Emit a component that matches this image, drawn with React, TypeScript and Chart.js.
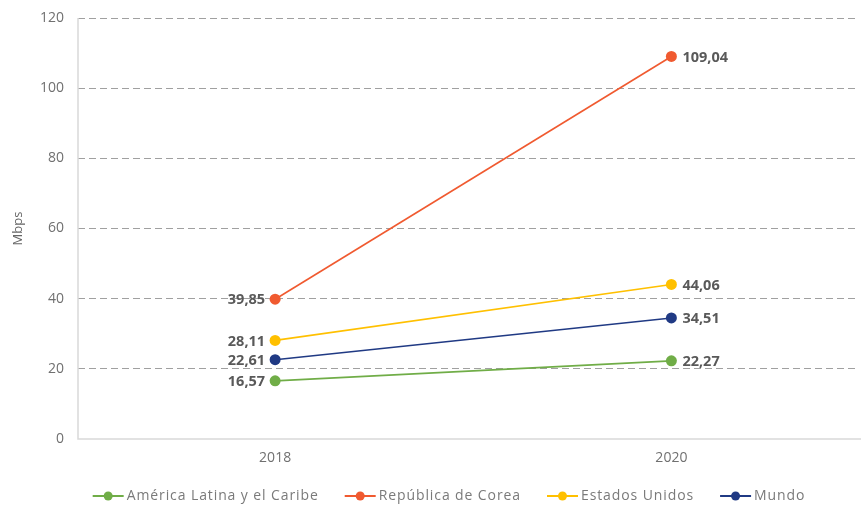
import React, { useEffect, useRef } from "react";
import { Chart, registerables } from "chart.js";

Chart.register(...registerables);

const years = [2018, 2020];
const seriesNames = ["América Latina y el Caribe", "República de Corea", "Estados Unidos", "Mundo"];
const americaLatina = [16.57, 22.27];
const corea = [39.85, 109.04];
const estadosUnidos = [28.11, 44.06];
const mundo = [22.61, 34.51];
const seriesColors = ["#70AD47", "#F05A30", "#FFC000", "#203A84"];
const yTicks = [0, 20, 40, 60, 80, 100, 120];

const FONT = "'Open Sans', Lato, sans-serif";

const fmt = (v: number) => v.toFixed(2).replace(".", ",");

const labelPlugin = {
  id: "pointLabels",
  afterDatasetsDraw(chart: any) {
    const ctx = chart.ctx;
    ctx.save();
    ctx.font = `bold 14.5px ${FONT}`;
    ctx.fillStyle = "#595959";
    ctx.textBaseline = "middle";
    chart.data.datasets.forEach((ds: any, i: number) => {
      const meta = chart.getDatasetMeta(i);
      meta.data.forEach((pt: any, j: number) => {
        const v = ds.data[j].y;
        if (j === 0) {
          ctx.textAlign = "right";
          ctx.fillText(fmt(v), pt.x - 10, pt.y + 1);
        } else {
          ctx.textAlign = "left";
          ctx.fillText(fmt(v), pt.x + 11, pt.y + 1);
        }
      });
    });
    ctx.restore();
  },
};

const legendPlugin = {
  id: "lineLegend",
  afterDraw(chart: any) {
    const ctx = chart.ctx;
    ctx.save();
    ctx.font = `14px ${FONT}`;
    (ctx as any).letterSpacing = "0.9px";
    ctx.textBaseline = "middle";
    ctx.textAlign = "left";
    const y = 496;
    const gap = 26;
    const markerW = 31;
    const widths = seriesNames.map((n) => ctx.measureText(n).width);
    const total = widths.reduce((a, b) => a + b, 0) + seriesNames.length * (markerW + 3) + gap * (seriesNames.length - 1);
    let x = 449 - total / 2;
    seriesNames.forEach((n, i) => {
      ctx.strokeStyle = seriesColors[i];
      ctx.lineWidth = 2;
      ctx.beginPath();
      ctx.moveTo(x, y);
      ctx.lineTo(x + markerW, y);
      ctx.stroke();
      ctx.fillStyle = seriesColors[i];
      ctx.beginPath();
      ctx.arc(x + markerW / 2, y, 4.5, 0, Math.PI * 2);
      ctx.fill();
      ctx.fillStyle = "#7a7a7a";
      ctx.fillText(n, x + markerW + 3, y);
      x += markerW + 3 + widths[i] + gap;
    });
    ctx.restore();
  },
};

const axisLinePlugin = {
  id: "axisLines",
  beforeDatasetsDraw(chart: any) {
    const { ctx, chartArea } = chart;
    ctx.save();
    ctx.strokeStyle = "#d9d9d9";
    ctx.lineWidth = 1.5;
    ctx.setLineDash([]);
    ctx.beginPath();
    ctx.moveTo(chartArea.left, chartArea.top);
    ctx.lineTo(chartArea.left, chartArea.bottom);
    ctx.lineTo(chart.width, chartArea.bottom);
    ctx.stroke();
    ctx.restore();
  },
};

export default function App() {
  const ref = useRef<HTMLCanvasElement>(null);
  useEffect(() => {
    const allSeries = [americaLatina, corea, estadosUnidos, mundo];
    const chart = new Chart(ref.current!, {
      type: "line",
      data: {
        datasets: allSeries.map((vals, i) => ({
          label: seriesNames[i],
          data: years.map((yr, j) => ({ x: yr, y: vals[j] })),
          borderColor: seriesColors[i],
          backgroundColor: seriesColors[i],
          borderWidth: 1.6,
          pointRadius: 5.5,
          pointHoverRadius: 5.5,
          pointBorderWidth: 0,
        })),
      },
      options: {
        animation: false,
        responsive: false,
        maintainAspectRatio: false,
        layout: { padding: { left: 0, right: 0, top: 18, bottom: 31 } },
        plugins: { legend: { display: false }, tooltip: { enabled: false } },
        scales: {
          x: {
            type: "linear",
            min: years[0] - 197 / 198,
            max: years[0] - 197 / 198 + 777 / 198,
            afterBuildTicks: (scale: any) => {
              scale.ticks = years.map((v) => ({ value: v }));
            },
            afterFit: (scale: any) => {
              scale.height = 36;
            },
            grid: { display: false, drawTicks: false },
            border: { display: false },
            ticks: {
              color: "#707070",
              font: { family: FONT, size: 14 },
              padding: 11,
              callback: (v: any) => String(v),
            },
          },
          y: {
            min: 0,
            max: 120,
            afterBuildTicks: (scale: any) => {
              scale.ticks = yTicks.map((v) => ({ value: v }));
            },
            afterFit: (scale: any) => {
              scale.width = 78;
              scale.paddingTop = 0;
              scale.paddingBottom = 0;
            },
            grid: {
              color: (c: any) => (c.tick && c.tick.value === 0 ? "rgba(0,0,0,0)" : "#a0a0a0"),
              lineWidth: 1,
              drawTicks: false,
            },
            border: { display: false, dash: [7, 4] },
            ticks: {
              color: "#707070",
              font: { family: FONT, size: 14, lineHeight: 1 },
              padding: 14,
            },
            title: {
              display: true,
              text: "Mbps",
              color: "#666666",
              font: { family: FONT, size: 13 },
              padding: { top: 10, bottom: 0 },
            },
          },
        },
      },
      plugins: [axisLinePlugin, labelPlugin, legendPlugin],
    } as any);
    return () => chart.destroy();
  }, []);
  return (
    <div style={{ position: "fixed", left: 0, top: 0, width: 861, height: 506, background: "#fff" }}>
      <canvas ref={ref} width={861} height={506} style={{ display: "block" }} />
    </div>
  );
}
